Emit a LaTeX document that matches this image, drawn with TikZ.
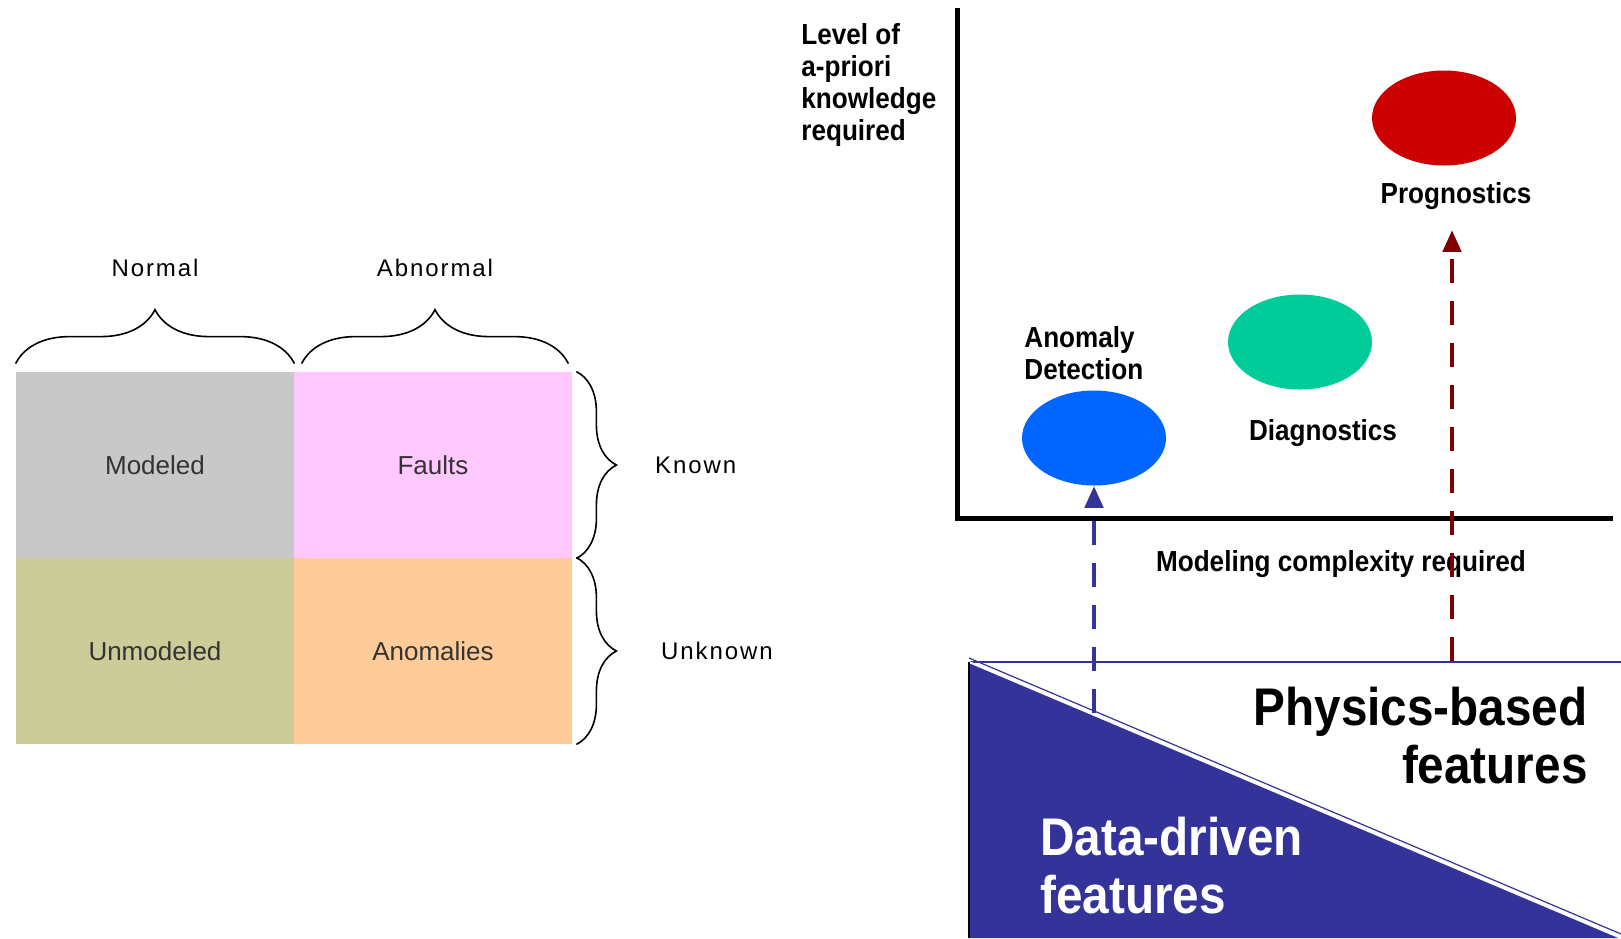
\documentclass[tikz,border=0pt]{standalone}
\usepackage{fontspec}
\setmainfont{Liberation Sans}
\newfontfamily\narrowfont[FakeStretch=0.9]{Liberation Sans}
\newfontfamily\spacedfont[LetterSpace=8]{Liberation Sans}
\usetikzlibrary{shapes.geometric,arrows.meta,decorations.pathreplacing,positioning}
\definecolor{cellgray}{HTML}{C8C8C8}
\definecolor{cellpink}{HTML}{FFC8FF}
\definecolor{cellolive}{HTML}{CCCC99}
\definecolor{cellorange}{HTML}{FFCC99}
\definecolor{blobblue}{HTML}{0066FF}
\definecolor{blobgreen}{HTML}{00CC99}
\definecolor{blobred}{HTML}{CC0000}
\definecolor{featblue}{HTML}{333399}
\definecolor{arrowred}{HTML}{800000}
\tikzset{
  cell/.style={minimum width=139pt, minimum height=93pt, inner sep=0pt,
    text=black!80, font=\fontsize{13}{15}\selectfont},
  bracelabel/.style={inner sep=0pt, font=\spacedfont\fontsize{12}{14}\selectfont},
  hbrace/.style={decorate, decoration={brace, amplitude=27pt, raise=4pt}, line width=0.8pt},
  vbrace/.style={decorate, decoration={brace, amplitude=20pt, raise=2pt}, line width=0.8pt},
  blob/.style={ellipse, minimum width=72pt, minimum height=47.5pt, inner sep=0pt},
  axislabel/.style={inner sep=0pt, font=\narrowfont\bfseries\fontsize{14.5}{16}\selectfont},
  biglabel/.style={inner sep=0pt, font=\narrowfont\bfseries\fontsize{26.5}{29}\selectfont},
  dasharrow/.style={line width=2.4pt, dash pattern=on 12pt off 9pt,
    -{Triangle[length=11pt,width=9pt]}}
}
\begin{document}
\begin{tikzpicture}[x=0.5pt,y=-0.5pt]
  \useasboundingbox (0,0) rectangle (1621,938);
  \node[cell, fill=cellgray] (modeled) at (155,465) {Modeled};
  \node[cell, fill=cellpink] (faults) at (433,465) {Faults};
  \node[cell, fill=cellolive] (unmodeled) at (155,651) {Unmodeled};
  \node[cell, fill=cellorange] (anomalies) at (433,651) {Anomalies};
  \draw[hbrace] (modeled.north west) -- node[bracelabel, above=47pt] (normal) {Normal} (modeled.north east);
  \draw[hbrace] ([xshift=4pt]faults.north west) -- node[bracelabel, above=47pt] (abnormal) {Abnormal} ([xshift=-2pt]faults.north east);
  \draw[vbrace] (faults.north east) -- node[bracelabel, right=41pt] (known) {Known} (faults.south east);
  \draw[vbrace] (anomalies.north east) -- node[bracelabel, right=44pt] (unknown) {Unknown} (anomalies.south east);

  \coordinate (ytop) at (957,8);
  \coordinate (origin) at (957,518);
  \coordinate (xend) at (1613,518);
  \draw[line width=2.5pt] (ytop) -- (origin) -- (xend);
  \node[axislabel, align=left, anchor=west] (ylabel) at (801,85) {Level of\\a-priori\\knowledge\\required};
  \node[axislabel] (xlabel) at (1341,564) {Modeling complexity required};

  \node[blob, fill=blobblue] (anom) at (1094,438) {};
  \node[blob, fill=blobgreen] (diag) at (1300,342) {};
  \node[blob, fill=blobred] (prog) at (1444,118) {};
  \node[axislabel, align=left, anchor=west] (anomlabel) at (1024,353) {Anomaly\\Detection};
  \node[axislabel] (diaglabel) at (1323,433) {Diagnostics};
  \node[axislabel] (proglabel) at (1456,196) {Prognostics};

  \coordinate (tritop) at (969,662);
  \coordinate (tribot) at (969,938);
  \coordinate (triend) at (1621,938);
  \coordinate (topend) at (1621,662);
  \fill[featblue] (tritop) -- (tribot) -- (triend) -- cycle;
  \draw[featblue, line width=0.6pt] (tritop) -- (topend);
  \draw[white, line width=1pt] (tritop) -- (triend);
  \draw[featblue, line width=0.6pt] ([yshift=2pt]tritop) -- ([yshift=2pt]triend);
  \draw[line width=0.8pt] (tritop) -- (tribot);
  \node[biglabel, align=right, anchor=east] (physics) at (1588,736) {Physics-based\\features};
  \node[biglabel, align=left, anchor=west, text=white] (data) at (1040,866) {Data-driven\\features};

  \coordinate (adfoot) at (1094,713);
  \coordinate (prfoot) at (1452,661);
  \draw[dasharrow, featblue] (adfoot) -- (anom.south);
  \draw[dasharrow, arrowred, shorten >=10pt] (prfoot) -- (prfoot |- proglabel.south);
\end{tikzpicture}
\end{document}
